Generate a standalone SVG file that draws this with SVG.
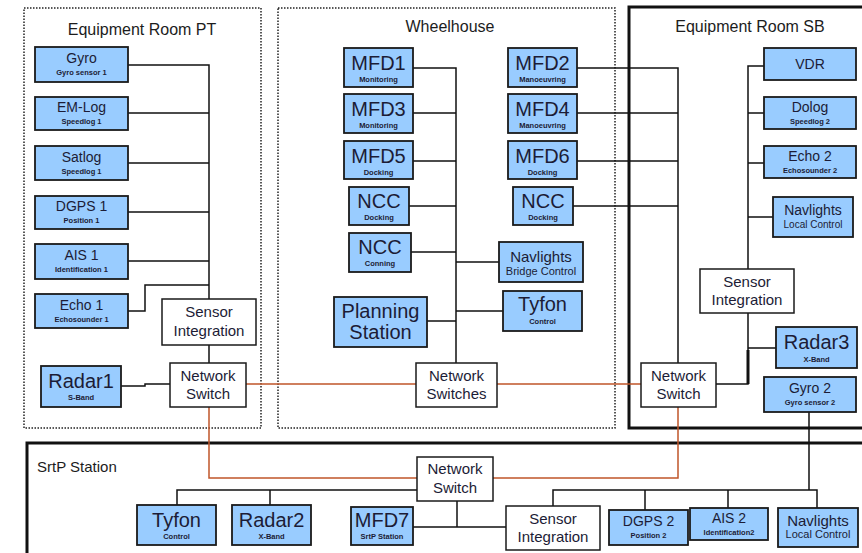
<svg xmlns="http://www.w3.org/2000/svg" width="862" height="553" viewBox="0 0 862 553">
<style>
.b{fill:#99ccff;stroke:#1a1a1a;stroke-width:1.8}
.w{fill:#ffffff;stroke:#1a1a1a;stroke-width:1.5}
.t{font-family:"Liberation Sans",Arial,sans-serif;fill:#1c1c36;text-anchor:middle}
.m{font-size:14px}
.L{font-size:20px}
.n{font-size:15px}
.s{font-size:7.5px;font-weight:bold}
.ttl{font-family:"Liberation Sans",Arial,sans-serif;fill:#1c1c1c;font-size:16px}
.c{fill:none;stroke:#111;stroke-width:1.5}
.r{fill:none;stroke:#c0552a;stroke-width:1.5}
.dot{fill:none;stroke:#222;stroke-width:1.5;stroke-dasharray:1.5 1.5}
.thick{fill:none;stroke:#111;stroke-width:3}
</style>
<rect width="862" height="553" fill="#ffffff"/>
<g id="rooms">
<rect class="dot" x="24" y="8" width="237" height="420"/>
<rect class="dot" x="278" y="8" width="337" height="420"/>
<path class="thick" d="M866 7 H629 V428 H866"/>
<path class="thick" d="M866 443 H27 V560"/>
<text class="ttl" x="142" y="35" text-anchor="middle">Equipment Room PT</text>
<text class="ttl" x="450" y="32" text-anchor="middle">Wheelhouse</text>
<text class="ttl" x="750" y="32" text-anchor="middle">Equipment Room SB</text>
<text class="ttl" x="37" y="472" style="font-size:15px">SrtP Station</text>
</g>
<g id="connectors">
<path class="c" d="M128 65 H209 V299 M128 113 H209 M128 163 H209 M128 212 H209 M128 261 H209 M128 311 H145 V285 H209 M209 345 V363 M121 386 H145 V384 H170"/>
<path class="c" d="M413 68 H456 V363 M413 113 H456 M413 161 H456 M409 206 H456 M411 252 H456 M456 262 H499 M427 321 H456 M456 311 H503"/>
<path class="c" d="M577 68 H678 V363 M577 113 H678 M577 161 H678 M573 206 H678"/>
<path class="c" d="M764 66 H748 V269 M748 113 H764 M748 163 H764 M748 217 H773 M748 313 V384 H716 M748 348 H776 M809 412 V490"/>
<path class="c" d="M748 350 V384" style="stroke-width:3"/>
<path class="c" d="M417 490 H177 V505 M270 490 V505 M553 506 V490 H817 V508 M645 490 V510 M728 490 V508 M413 527 H457 V501 M457 527 H506"/>
<path class="r" d="M246 384 H416 M497 384 H641 M209 407 V478 H417 M493 478 H678 V407"/>
</g>
<g id="gyro1"><rect class="b" x="35" y="47" width="93" height="35"/><text class="t m" x="81.5" y="63">Gyro</text><text class="t s" x="81.5" y="75">Gyro sensor 1</text></g>
<g id="emlog"><rect class="b" x="35" y="97" width="93" height="33"/><text class="t m" x="81.5" y="112">EM-Log</text><text class="t s" x="81.5" y="124">Speedlog 1</text></g>
<g id="satlog"><rect class="b" x="35" y="146" width="93" height="34"/><text class="t m" x="81.5" y="162">Satlog</text><text class="t s" x="81.5" y="174">Speedlog 1</text></g>
<g id="dgps1"><rect class="b" x="35" y="196" width="93" height="33"/><text class="t m" x="81.5" y="211">DGPS 1</text><text class="t s" x="81.5" y="223">Position 1</text></g>
<g id="ais1"><rect class="b" x="35" y="244" width="93" height="35"/><text class="t m" x="81.5" y="260">AIS 1</text><text class="t s" x="81.5" y="272">Identification 1</text></g>
<g id="echo1"><rect class="b" x="35" y="294" width="93" height="34"/><text class="t m" x="81.5" y="310">Echo 1</text><text class="t s" x="81.5" y="322">Echosounder 1</text></g>
<g id="radar1"><rect class="b" x="41" y="366" width="80" height="41"/><text class="t L" x="81" y="388">Radar1</text><text class="t s" x="81" y="400">S-Band</text></g>
<g id="si-pt"><rect class="w" x="162" y="299" width="94" height="46"/><text class="t n" x="209" y="317">Sensor</text><text class="t n" x="209" y="336">Integration</text></g>
<g id="ns-pt"><rect class="w" x="170" y="363" width="76" height="44"/><text class="t n" x="208" y="381">Network</text><text class="t n" x="208" y="399">Switch</text></g>
<g id="mfd1"><rect class="b" x="344" y="48" width="69" height="39"/><text class="t L" x="378.5" y="70">MFD1</text><text class="t s" x="378.5" y="82">Monitoring</text></g>
<g id="mfd3"><rect class="b" x="344" y="94" width="69" height="39"/><text class="t L" x="378.5" y="116">MFD3</text><text class="t s" x="378.5" y="128">Monitoring</text></g>
<g id="mfd5"><rect class="b" x="344" y="141" width="69" height="38"/><text class="t L" x="378.5" y="163">MFD5</text><text class="t s" x="378.5" y="175">Docking</text></g>
<g id="ncc-dock-l"><rect class="b" x="349" y="187" width="60" height="38"/><text class="t L" x="379" y="208">NCC</text><text class="t s" x="379" y="220">Docking</text></g>
<g id="ncc-conning"><rect class="b" x="349" y="233" width="62" height="39"/><text class="t L" x="380" y="254">NCC</text><text class="t s" x="380" y="266">Conning</text></g>
<g id="planning"><rect class="b" x="334" y="297" width="93" height="50"/><text class="t L" x="380.5" y="318">Planning</text><text class="t L" x="380.5" y="339">Station</text></g>
<g id="mfd2"><rect class="b" x="508" y="48" width="69" height="39"/><text class="t L" x="542.5" y="70">MFD2</text><text class="t s" x="542.5" y="82">Manoeuvring</text></g>
<g id="mfd4"><rect class="b" x="508" y="94" width="69" height="39"/><text class="t L" x="542.5" y="116">MFD4</text><text class="t s" x="542.5" y="128">Manoeuvring</text></g>
<g id="mfd6"><rect class="b" x="508" y="141" width="69" height="38"/><text class="t L" x="542.5" y="163">MFD6</text><text class="t s" x="542.5" y="175">Docking</text></g>
<g id="ncc-dock-r"><rect class="b" x="513" y="187" width="60" height="38"/><text class="t L" x="543" y="208">NCC</text><text class="t s" x="543" y="220">Docking</text></g>
<g id="navlights-bridge"><rect class="b" x="499" y="242" width="84" height="40"/><text class="t n" x="541" y="262">Navlights</text><text class="t" x="541" y="275" style="font-size:11px">Bridge Control</text></g>
<g id="tyfon-wh"><rect class="b" x="503" y="291" width="79" height="40"/><text class="t L" x="542.5" y="311">Tyfon</text><text class="t s" x="542.5" y="324">Control</text></g>
<g id="ns-wh"><rect class="w" x="416" y="363" width="81" height="44"/><text class="t n" x="456.5" y="381">Network</text><text class="t n" x="456.5" y="399">Switches</text></g>
<g id="vdr"><rect class="b" x="764" y="48" width="92" height="32"/><text class="t m" x="810" y="69">VDR</text></g>
<g id="dolog"><rect class="b" x="764" y="97" width="92" height="32"/><text class="t m" x="810" y="112">Dolog</text><text class="t s" x="810" y="124">Speedlog 2</text></g>
<g id="echo2"><rect class="b" x="764" y="146" width="92" height="32"/><text class="t m" x="810" y="161">Echo 2</text><text class="t s" x="810" y="173">Echosounder 2</text></g>
<g id="navlights-sb"><rect class="b" x="773" y="197" width="80" height="40"/><text class="t m" x="813" y="215">Navlights</text><text class="t" x="813" y="228" style="font-size:10px">Local Control</text></g>
<g id="si-sb"><rect class="w" x="700" y="269" width="94" height="44"/><text class="t n" x="747" y="287">Sensor</text><text class="t n" x="747" y="305">Integration</text></g>
<g id="radar3"><rect class="b" x="776" y="327" width="81" height="41"/><text class="t L" x="816.5" y="349">Radar3</text><text class="t s" x="816.5" y="362">X-Band</text></g>
<g id="ns-sb"><rect class="w" x="641" y="363" width="75" height="44"/><text class="t n" x="678.5" y="381">Network</text><text class="t n" x="678.5" y="399">Switch</text></g>
<g id="gyro2"><rect class="b" x="764" y="377" width="92" height="35"/><text class="t m" x="810" y="393">Gyro 2</text><text class="t s" x="810" y="405">Gyro sensor 2</text></g>
<g id="ns-srtp"><rect class="w" x="417" y="457" width="76" height="44"/><text class="t n" x="455" y="474">Network</text><text class="t n" x="455" y="493">Switch</text></g>
<g id="tyfon-srtp"><rect class="b" x="137" y="505" width="79" height="40"/><text class="t L" x="176.5" y="527">Tyfon</text><text class="t s" x="176.5" y="539">Control</text></g>
<g id="radar2"><rect class="b" x="232" y="505" width="79" height="40"/><text class="t L" x="271.5" y="527">Radar2</text><text class="t s" x="271.5" y="539">X-Band</text></g>
<g id="mfd7"><rect class="b" x="351" y="507" width="62" height="38"/><text class="t L" x="382" y="527">MFD7</text><text class="t s" x="382" y="539">SrtP Station</text></g>
<g id="si-srtp"><rect class="w" x="506" y="506" width="94" height="44"/><text class="t n" x="553" y="524">Sensor</text><text class="t n" x="553" y="542">Integration</text></g>
<g id="dgps2"><rect class="b" x="609" y="510" width="79" height="35"/><text class="t m" x="648.5" y="526">DGPS 2</text><text class="t s" x="648.5" y="538">Position 2</text></g>
<g id="ais2"><rect class="b" x="690" y="508" width="78" height="32"/><text class="t m" x="729" y="523">AIS 2</text><text class="t s" x="729" y="535">Identification2</text></g>
<g id="navlights-srtp"><rect class="b" x="778" y="508" width="80" height="39"/><text class="t n" x="818" y="526">Navlights</text><text class="t" x="818" y="538" style="font-size:11px">Local Control</text></g>
</svg>
